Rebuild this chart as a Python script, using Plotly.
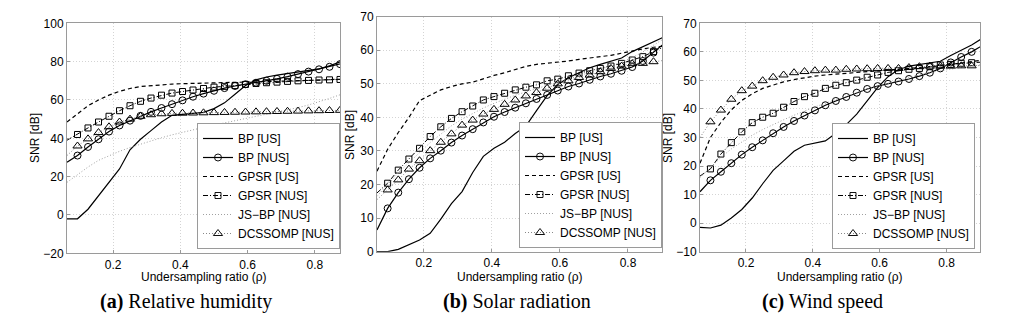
import plotly.graph_objects as go

# ---------------- data ----------------
rho = [0.0625, 0.09375, 0.125, 0.15625, 0.1875, 0.21875, 0.25, 0.28125, 0.3125,
       0.34375, 0.375, 0.40625, 0.4375, 0.46875, 0.5, 0.53125, 0.5625, 0.59375,
       0.625, 0.65625, 0.6875, 0.71875, 0.75, 0.78125, 0.8125, 0.84375, 0.875, 0.90625]

series_names = ["BP [US]", "BP [NUS]", "GPSR [US]", "GPSR [NUS]", "JS\u2212BP [NUS]", "DCSSOMP [NUS]"]

# (a) Relative humidity
bp_us_a = [-2, -2, 3, 10, 16.5, 24, 34, 39.5, 44, 48.5, 52, 52.5, 53, 53.5, 55.5, 58.5,
           63, 67.5, 70.5, 72, 73, 73.8, 74.5, 75.3, 76.2, 77.8, 79.8, 82]
bp_nus_a = [27.5, 31, 35.5, 39.5, 43.5, 46.7, 49.2, 51.7, 53.8, 55.8, 57.8, 59.8, 61.7, 63.3,
            64.8, 66.2, 67.3, 68.2, 69, 70, 71, 72.2, 73.5, 74.8, 76, 77.3, 78.7, 80.2]
gpsr_us_a = [48.5, 53, 57, 60, 62.5, 64.5, 66, 67, 67.5, 68, 68.3, 68.5, 68.7, 68.8, 69, 69,
             69.2, 69.3, 69.4, 69.5, 69.7, 69.8, 70, 70.2, 70.4, 70.6, 70.8, 71]
gpsr_nus_a = [39, 42, 45.4, 48.5, 51.5, 54.4, 57, 59.3, 61, 62.5, 63.6, 64.4, 65.2, 66, 66.7,
              67.1, 67.5, 68.1, 68.6, 69, 69.3, 69.7, 70, 70.2, 70.4, 70.5, 70.7, 70.9]
js_bp_a = [17, 21, 25, 28.5, 31, 33.2, 35.2, 37, 38.7, 40.3, 41.8, 43.2, 44.5, 45.7, 46.9, 48,
           49.1, 50.2, 51.3, 52.4, 53.5, 54.7, 56, 57.4, 59, 60.8, 62.7, 64.5]
dcs_a = [31, 36, 39.7, 43, 46, 48.5, 50, 51.5, 52.3, 52.8, 53, 53.1, 53.2, 53.3, 53.4, 53.5,
         53.6, 53.7, 53.8, 53.9, 54, 54.1, 54.2, 54.3, 54.4, 54.5, 54.6, 54.7]

# (b) Solar radiation
bp_us_b = [0, 0, 0.7, 2, 3.5, 5.5, 9.7, 14.3, 17.9, 23.6, 28.4, 30.8, 32.6, 35.2, 37.4, 42,
           46.5, 49.8, 51.8, 53.3, 54.8, 55.8, 56.7, 57.7, 59.6, 61, 62.5, 64]
bp_nus_b = [6.5, 12.9, 17.6, 21.6, 25, 27.8, 30.1, 32.5, 34.6, 36.5, 38.5, 40.2, 41.6, 42.9,
            44.2, 45.5, 46.7, 48, 49.2, 50.1, 51.2, 52.2, 53, 53.9, 55, 56.8, 59.3, 62]
gpsr_us_b = [24, 30.5, 35.5, 40, 45, 46.5, 48.2, 49.2, 50, 50.5, 51.6, 52.5, 53.3, 54.2, 55.2,
             55.8, 56.1, 56.4, 56.8, 57.3, 57.8, 58.1, 58.5, 59.2, 59.8, 60.4, 60.9, 61.2]
gpsr_nus_b = [17.5, 20.4, 24.3, 27.6, 30.8, 34.3, 37.2, 39.7, 41.7, 43.4, 45.2, 46.2, 47.2,
              48.2, 49, 49.7, 50.9, 51.4, 52.4, 53.2, 53.9, 54.6, 55.3, 56.1, 57.1, 58.1, 59.6, 61]
js_bp_b = [16.5, 20, 23.5, 26.5, 29.5, 32.5, 35, 37.5, 39.5, 41.2, 42.8, 44.2, 45.5, 46.6,
           47.6, 48.6, 49.6, 50.5, 51.5, 52.5, 53.4, 54.3, 55.3, 56.4, 57.8, 59.5, 61.5, 63.5]
dcs_b = [15.5, 18.4, 21.4, 24.6, 27.1, 30.1, 32.6, 35.1, 37.7, 39.2, 41, 42.4, 43.9, 45.2,
         46.4, 47.4, 48.7, 50, 50.9, 51.9, 52.6, 53.6, 54.6, 55.3, 56, 56.1, 56.6, 57]

# (c) Wind speed
bp_us_c = [-1.5, -1.7, -0.7, 1.8, 4.8, 8.8, 13.8, 18.5, 21.8, 25.2, 27.3, 28, 28.8, 31.5,
           34.5, 38.2, 43, 47.5, 51.3, 53.8, 55, 55.6, 56.1, 56.7, 58.7, 60.6, 62.4, 64.7]
bp_nus_c = [11, 15, 18, 21, 24, 26.6, 29, 31.5, 33.7, 35.8, 37.7, 39.5, 41.3, 42.8, 44.2,
            45.7, 47, 48, 48.8, 49.6, 50.5, 51.5, 52.7, 54.2, 56.3, 58.2, 60, 62.2]
gpsr_us_c = [21, 30, 35.3, 39.7, 43, 45.3, 47.2, 48.4, 49.5, 50.3, 51, 51.5, 51.9, 52.2, 52.5,
             52.8, 53.1, 53.4, 53.6, 53.9, 54.1, 54.4, 54.7, 55.1, 55.6, 56.1, 56.6, 57.1]
gpsr_nus_c = [16.5, 19, 24.2, 28.2, 32, 35.2, 37.1, 38.5, 40.6, 42.6, 44.3, 45.5, 47.2, 48.3,
              49.2, 50.1, 51.1, 51.9, 52.8, 53.4, 53.9, 54.2, 54.8, 55.4, 55.6, 56, 56.2, 56.4]
js_bp_c = [16, 19.5, 23, 26, 28.5, 30.8, 32.8, 34.6, 36.2, 37.8, 39.3, 40.7, 42, 43.3, 44.5,
           45.7, 46.9, 48, 49, 50, 51, 51.9, 52.7, 53.4, 54, 54.5, 55, 55.5]
dcs_c = [30, 35.5, 39.6, 43.4, 46.4, 48, 49.9, 51.1, 51.9, 52.7, 53.1, 53.4, 53.6, 53.6, 53.9,
         54, 54.1, 54.2, 54.2, 54.2, 54.5, 54.8, 55, 55, 55, 55.1, 55.1, 55.2]

x_ticks = [0.2, 0.4, 0.6, 0.8]
captions = ["<b>(a)</b> Relative humidity", "<b>(b)</b> Solar radiation", "<b>(c)</b> Wind speed"]
x_title = "Undersampling ratio (\u03c1)"
y_title = "SNR [dB]"

panels = [
    dict(data=[bp_us_a, bp_nus_a, gpsr_us_a, gpsr_nus_a, js_bp_a, dcs_a],
         yticks=[-20, 0, 20, 40, 60, 80, 100], yrange=[-20, 100], xrange=[0.0625, 0.875]),
    dict(data=[bp_us_b, bp_nus_b, gpsr_us_b, gpsr_nus_b, js_bp_b, dcs_b],
         yticks=[0, 10, 20, 30, 40, 50, 60, 70], yrange=[0, 70], xrange=[0.0625, 0.9]),
    dict(data=[bp_us_c, bp_nus_c, gpsr_us_c, gpsr_nus_c, js_bp_c, dcs_c],
         yticks=[-10, 0, 10, 20, 30, 40, 50, 60, 70], yrange=[-10, 70], xrange=[0.0625, 0.9]),
]

# ---------------- layout geometry (pixels in 1024x327) ----------------
W, H = 1024, 327
plot_px = [(67, 340, 23.3, 253.3), (377, 662, 16.7, 251.7), (700, 980, 23.3, 251.7)]
legend_px = [(340, 249), (662, 248), (975, 249)]
ytitle_px = [(35, 138), (350, 135), (668, 138)]
caption_px = [186, 517, 822]

FONT = "Liberation Sans, Arial, sans-serif"
SERIF = "Liberation Serif, Times New Roman, serif"

styles = [
    dict(mode="lines", line=dict(color="black", width=1.2)),
    dict(mode="lines+markers", line=dict(color="black", width=1.2),
         marker=dict(symbol="circle-open", size=7, color="black", line=dict(width=1))),
    dict(mode="lines", line=dict(color="black", width=1.2, dash="4px,3px")),
    dict(mode="lines+markers", line=dict(color="black", width=1, dash="5px,2px,1px,2px"),
         marker=dict(symbol="square-open", size=6, color="black", line=dict(width=1))),
    dict(mode="lines", line=dict(color="#a0a0a0", width=1, dash="1px,2px")),
    dict(mode="lines+markers", line=dict(color="#888888", width=1, dash="1px,2px"),
         marker=dict(symbol="triangle-up-open", size=8, color="black", line=dict(width=1))),
]

fig = go.Figure()
annotations = []
n = len(rho)
marker_opacity = [0] + [1] * (n - 2) + [0]

for i, p in enumerate(panels):
    sfx = "" if i == 0 else str(i + 1)
    lg = "legend" if i == 0 else "legend" + str(i + 1)
    for name, ys, st in zip(series_names, p["data"], styles):
        kw = dict(x=rho, y=ys, name=name, mode=st["mode"], line=st["line"],
                  xaxis="x" + sfx, yaxis="y" + sfx, legend=lg)
        if "marker" in st:
            m = dict(st["marker"])
            m["opacity"] = marker_opacity
            kw["marker"] = m
        fig.add_trace(go.Scatter(**kw))

    x0, x1, yt, yb = plot_px[i]
    axis_common = dict(showline=True, mirror=True, linecolor="#9a9a9a", linewidth=1,
                       showgrid=True, gridcolor="#d4d4d4", griddash="1px,2px", gridwidth=1,
                       zeroline=False, ticks="inside", ticklen=3, tickcolor="#9a9a9a",
                       automargin=False,
                       tickfont=dict(family=FONT, size=12, color="black"))
    fig.update_layout(**{
        "xaxis" + sfx: dict(domain=[x0 / W, x1 / W], range=p["xrange"], tickvals=x_ticks,
                            anchor="y" + sfx, **axis_common),
        "yaxis" + sfx: dict(domain=[(H - yb) / H, (H - yt) / H], range=p["yrange"],
                            tickvals=p["yticks"], anchor="x" + sfx, **axis_common),
        lg: dict(x=legend_px[i][0] / W, y=(H - legend_px[i][1]) / H, xanchor="right",
                 yanchor="bottom", bgcolor="white", bordercolor="#9a9a9a", borderwidth=1,
                 font=dict(family=FONT, size=12, color="black"), itemwidth=30,
                 tracegroupgap=0, xref="paper", yref="paper"),
    })
    # axis titles and caption
    common_ann = dict(xref="paper", yref="paper", showarrow=False,
                      xanchor="center", yanchor="middle")
    annotations.append(dict(text=x_title, x=(x0 + x1) / 2 / W, y=(H - 277) / H,
                            font=dict(family=FONT, size=12, color="black"), **common_ann))
    annotations.append(dict(text=y_title, x=ytitle_px[i][0] / W, y=(H - ytitle_px[i][1]) / H,
                            textangle=-90,
                            font=dict(family=FONT, size=12, color="black"), **common_ann))
    annotations.append(dict(text=captions[i], x=caption_px[i] / W, y=(H - 301) / H,
                            font=dict(family=SERIF, size=20, color="black"), **common_ann))

fig.update_layout(width=W, height=H,
                  margin=dict(l=0, r=0, t=0, b=0, pad=0, autoexpand=False),
                  paper_bgcolor="white", plot_bgcolor="white", showlegend=True,
                  hovermode=False, annotations=annotations)

fig.write_html("out.html", config={"displayModeBar": False},
               post_script="document.body.style.margin='0px';document.body.style.padding='0px';")
